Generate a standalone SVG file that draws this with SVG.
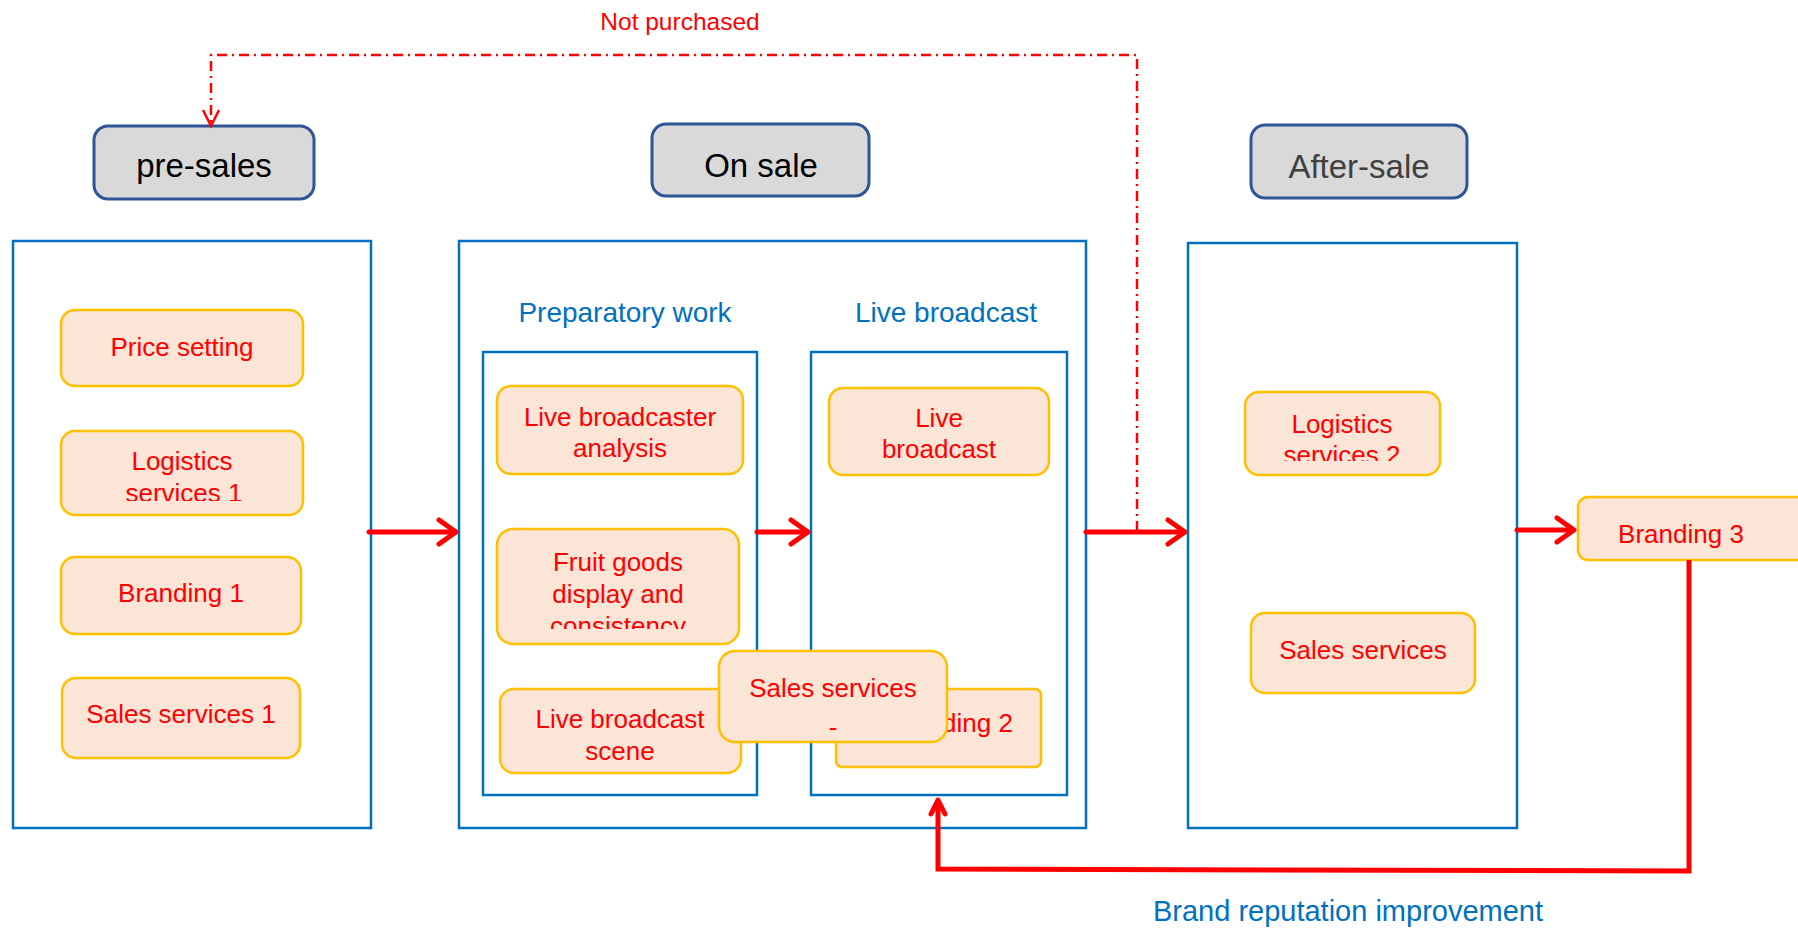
<svg xmlns="http://www.w3.org/2000/svg" width="1798" height="929" viewBox="0 0 1798 929">
<style>
text{font-family:"Liberation Sans",Arial,sans-serif}
.hdr{fill:#d9d9d9;stroke:#2f5597;stroke-width:3}
.ht{font-size:33px;text-anchor:middle}
.cont{fill:#fff;stroke:#0070c0;stroke-width:2.5}
.lbl{font-size:28px;fill:#0070c0;text-anchor:middle}
.nd{fill:#fbe5d6;stroke:#ffc000;stroke-width:2.5}
.nt{font-size:26px;fill:#ff0000;text-anchor:middle}
.arr{fill:none;stroke:#ff0000;stroke-width:5;stroke-linecap:round;stroke-linejoin:round}
.dd{fill:none;stroke:#ff0000;stroke-width:2.5;stroke-dasharray:10 5 2 5}
</style>
<defs>
<clipPath id="c1"><rect x="55" y="425" width="255" height="76"/></clipPath>
<clipPath id="c2"><rect x="490" y="525" width="255" height="104"/></clipPath>
<clipPath id="c3"><rect x="1240" y="388" width="205" height="73"/></clipPath>
<clipPath id="c4"><rect x="719" y="651" width="228" height="80"/></clipPath>
</defs>

<g id="containers">
<rect id="pre-container" class="cont" x="13" y="241" width="358" height="587"/>
<rect id="on-container" class="cont" x="459" y="241" width="627" height="587"/>
<rect id="after-container" class="cont" x="1188" y="243" width="329" height="585"/>
<rect id="prep-box" class="cont" x="483" y="352" width="274" height="443"/>
<rect id="live-box" class="cont" x="811" y="352" width="256" height="443"/>
<text class="lbl" x="625" y="322">Preparatory work</text>
<text class="lbl" x="946" y="322">Live broadcast</text>
</g>

<g id="hdr-pre"><rect class="hdr" x="94" y="126" width="220" height="73" rx="14"/><text class="ht" x="204" y="177" fill="#000">pre-sales</text></g>
<g id="hdr-on"><rect class="hdr" x="652" y="124" width="217" height="72" rx="14"/><text class="ht" x="761" y="177" fill="#000">On sale</text></g>
<g id="hdr-after"><rect class="hdr" x="1251" y="125" width="216" height="73" rx="14"/><text class="ht" x="1359" y="178" fill="#404040">After-sale</text></g>

<g id="n-price"><rect class="nd" x="61" y="310" width="242" height="76" rx="14"/><text class="nt" x="182" y="356">Price setting</text></g>
<g id="n-log1"><rect class="nd" x="61" y="431" width="242" height="84" rx="14"/><text class="nt" x="182" y="470">Logistics</text><text class="nt" x="184" y="502" clip-path="url(#c1)">services 1</text></g>
<g id="n-brand1"><rect class="nd" x="61" y="557" width="240" height="77" rx="14"/><text class="nt" x="181" y="602">Branding 1</text></g>
<g id="n-sales1"><rect class="nd" x="62" y="678" width="238" height="80" rx="14"/><text class="nt" x="181" y="723">Sales services 1</text></g>

<g id="n-analysis"><rect class="nd" x="497" y="386" width="246" height="88" rx="14"/><text class="nt" x="620" y="426">Live broadcaster</text><text class="nt" x="620" y="457">analysis</text></g>
<g id="n-fruit"><rect class="nd" x="497" y="529" width="242" height="115" rx="16"/><text class="nt" x="618" y="571">Fruit goods</text><text class="nt" x="618" y="603">display and</text><text class="nt" x="618" y="635" clip-path="url(#c2)">consistency</text></g>
<g id="n-scene"><rect class="nd" x="500" y="689" width="241" height="84" rx="14"/><text class="nt" x="620" y="728">Live broadcast</text><text class="nt" x="620" y="760">scene</text></g>

<g id="n-live"><rect class="nd" x="829" y="388" width="220" height="87" rx="14"/><text class="nt" x="939" y="427">Live</text><text class="nt" x="939" y="458">broadcast</text></g>
<g id="n-brand2"><rect class="nd" x="836" y="689" width="205" height="78" rx="6"/><text class="nt" x="950" y="732">Branding 2</text></g>
<g id="n-sales2"><rect class="nd" x="719" y="651" width="228" height="91" rx="16"/><text class="nt" x="833" y="697">Sales services</text><text class="nt" x="833" y="736" clip-path="url(#c4)">-</text></g>

<g id="n-log2"><rect class="nd" x="1245" y="392" width="195" height="83" rx="14"/><text class="nt" x="1342" y="433">Logistics</text><text class="nt" x="1342" y="464" clip-path="url(#c3)">services 2</text></g>
<g id="n-salesA"><rect class="nd" x="1251" y="613" width="224" height="80" rx="14"/><text class="nt" x="1363" y="659">Sales services</text></g>
<g id="n-brand3"><rect class="nd" x="1578" y="497" width="240" height="63" rx="10"/><text class="nt" x="1681" y="543">Branding 3</text></g>

<g id="connectors">
<polyline class="dd" points="1137,531 1137,55 211,55 211,124"/>
<polyline fill="none" stroke="#ff0000" stroke-width="2.5" points="203,110 211,126 219,110"/>
<line class="arr" x1="369" y1="532" x2="455" y2="532"/><polyline class="arr" points="439,520 456,532 439,544"/>
<line class="arr" x1="757" y1="532" x2="807" y2="532"/><polyline class="arr" points="791,520 808,532 791,544"/>
<line class="arr" x1="1086" y1="532" x2="1184" y2="532"/><polyline class="arr" points="1168,520 1185,532 1168,544"/>
<line class="arr" x1="1517" y1="530" x2="1573" y2="530"/><polyline class="arr" points="1557,518 1574,530 1557,542"/>
<polyline fill="none" stroke="#ff0000" stroke-width="5" points="1689,560 1689,871 938,869 938,801"/>
<polyline class="arr" stroke-width="4" points="931,814 938,800 945,814"/>
<text x="680" y="30" font-size="24.5" fill="#ff0000" text-anchor="middle">Not purchased</text>
<text x="1348" y="921" font-size="29" fill="#0070c0" text-anchor="middle">Brand reputation improvement</text>
</g>
</svg>
